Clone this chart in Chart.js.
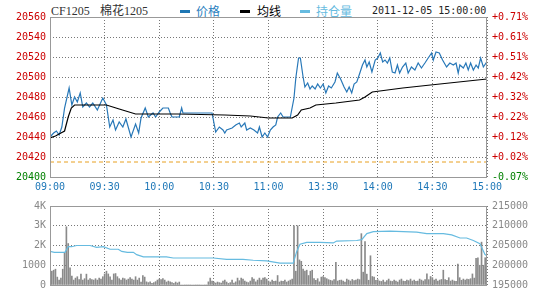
<!DOCTYPE html>
<html>
<head>
<meta charset="utf-8">
<script src="https://cdn.jsdelivr.net/npm/chart.js@4/dist/chart.umd.min.js"></script>
<style>
body { margin: 0; background: #fff; }
#wrap { position: relative; width: 540px; height: 300px; overflow: hidden; }
.t { position: absolute; top: 4px; line-height: 14px; font-size: 12px; white-space: nowrap; font-family: "Liberation Serif", "Noto Sans CJK SC", serif; color: #333; }
.cn { font-family: "Noto Sans CJK SC", sans-serif; }
.dash { position: absolute; top: 10px; width: 10px; height: 3px; }
#topBox { position: absolute; left: 0; top: 0; width: 540px; height: 195px; }
#botBox { position: absolute; left: 0; top: 195px; width: 540px; height: 105px; }
</style>
</head>
<body>
<div id="wrap">
  <span class="t" style="left:51px">CF1205</span>
  <span class="t" style="left:100px">棉花1205</span>
  <div class="dash" style="left:180px;background:#1f77b4"></div>
  <span class="t cn" style="left:196px;color:#2a80c0">价格</span>
  <div class="dash" style="left:240px;background:#000"></div>
  <span class="t cn" style="left:257px;color:#000">均线</span>
  <div class="dash" style="left:300px;background:#66bbe0"></div>
  <span class="t cn" style="left:316px;color:#66bbe0">持仓量</span>
  <span class="t" style="left:372px;font-family:'DejaVu Sans Mono',monospace;font-size:10px;color:#222">2011-12-05 15:00:00</span>
  <div id="topBox"><canvas id="priceChart"></canvas></div>
  <div id="botBox"><canvas id="volChart"></canvas></div>
</div>
<script>
/* -------------------------
   Data (minutes from 09:00, trading time only)
------------------------- */
const timeLabels = ["09:00", "09:30", "10:00", "10:30", "11:00", "13:30", "14:00", "14:30", "15:00"];
const prevSettle = 20415;

const priceMin = [0, 2, 3.5, 5, 6.5, 8, 10.5, 12, 13.5, 15, 16.6, 18, 20, 21.7, 23.5, 26, 29, 31, 32.8, 34.6,
  36, 38, 40, 41.7, 44.5, 47, 48.7, 50, 52.3, 54, 56.6, 58, 60, 62, 65, 66, 67, 71, 72.3, 73,
  89, 91, 93, 95, 96, 97, 100, 102, 104, 105, 107, 108, 110, 112, 114, 115, 116.5, 118, 119.5, 121,
  122.5, 124, 125, 126.7, 128, 132, 134, 135, 136.5, 137.5, 139, 140, 141.5, 142.8, 144, 145.6, 147, 148.5, 150, 151.5,
  153, 154.5, 156.5, 157.8, 159.6, 161.5, 163, 164.3, 165.7, 167, 168.5, 169.8, 171.6, 173, 174, 175.3, 176.8, 178.6, 180, 181.4,
  182.7, 184, 185.3, 186.6, 188, 189.5, 190.8, 192, 193.6, 195.4, 196.7, 198.5, 200.4, 202.2, 204, 205.9, 207.7, 209.6, 210.5, 212,
  213.8, 215.6, 217.8, 219.6, 221.5, 223, 224.2, 225.1, 227, 228.4, 229.7, 231, 232.5, 234, 235.2, 236.5, 238, 239.5, 240];
const priceVal = [20440, 20444, 20446, 20442, 20450, 20469, 20489, 20472, 20480, 20475, 20484, 20470, 20474, 20470, 20474, 20467, 20479, 20472, 20450, 20457,
  20447, 20455, 20450, 20458, 20440, 20453, 20444, 20459, 20469, 20460, 20464, 20460, 20465, 20469, 20469, 20464, 20460, 20460, 20469, 20464,
  20464, 20445, 20450, 20447, 20444, 20447, 20449, 20452, 20454, 20450, 20454, 20447, 20449, 20447, 20444, 20450, 20440, 20444, 20440, 20447,
  20450, 20452, 20460, 20464, 20460, 20460, 20479, 20499, 20519, 20519, 20500, 20490, 20494, 20488, 20491, 20488, 20493, 20489, 20493, 20484,
  20491, 20489, 20495, 20504, 20498, 20490, 20485, 20490, 20484, 20493, 20495, 20502, 20512, 20517, 20510, 20515, 20505, 20517, 20519, 20524,
  20515, 20517, 20514, 20519, 20505, 20504, 20512, 20504, 20510, 20514, 20504, 20510, 20507, 20514, 20509, 20514, 20519, 20524, 20517, 20525,
  20524, 20517, 20510, 20514, 20512, 20514, 20504, 20512, 20509, 20514, 20507, 20514, 20507, 20512, 20509, 20519, 20510, 20514, 20513];

const avgMin = [0, 3, 6, 8, 10, 11.7, 13.5, 31, 38, 47, 70, 96, 110, 120, 133, 136, 138, 142.8, 146, 157, 170, 173, 177, 193.7, 209, 240];
const avgVal = [20439, 20441, 20444, 20446, 20460, 20469, 20472, 20472, 20468, 20463, 20463, 20462, 20461, 20459, 20459, 20462, 20467, 20469, 20472, 20474, 20477, 20480, 20485, 20489, 20492, 20498];

const oiMin = [0, 2.4, 8.2, 10, 11.9, 14.6, 22, 25.6, 29.3, 33, 37.5, 39.4, 42.5, 45.8, 47.6, 51.3, 64, 67.7, 89.7, 97,
  106, 111.6, 119, 126.3, 133.6, 135.5, 137.3, 141, 148.3, 155.6, 157.4, 168.4, 171.2, 174, 177.6, 186.7, 201.4, 206.9, 216, 220.6,
  225.2, 228.8, 232.5, 236.1, 238.9, 240];
const oiVal = [203500, 203260, 203260, 204690, 204690, 205000, 205000, 204520, 204690, 204050, 204050, 203500, 203260, 203260, 202690, 202140, 202140, 201830, 201830, 201500,
  201500, 201260, 201120, 200550, 200550, 203500, 205310, 205790, 205790, 205640, 206120, 206270, 206500, 208020, 208500, 208650, 208400, 208020, 208020, 207690,
  206900, 206900, 206270, 205480, 202690, 202400];

// one bar per minute, 09:00 .. 15:00
const volumes = [
  500, 700, 750, 800, 400, 250, 350, 800, 1650, 2950,
  2100, 870, 450, 250, 350, 420, 270, 550, 250, 320,
  550, 250, 320, 280, 250, 320, 250, 350, 300, 420,
  560, 700, 560, 420, 250, 560, 580, 420, 320, 250,
  350, 320, 250, 300, 380, 300, 250, 420, 250, 350,
  150, 480, 400, 160, 120, 160, 80, 120, 170, 250,
  300, 270, 320, 250, 150, 200, 160, 120, 80, 150,
  100, 150, 0, 0, 0, 0, 0, 0, 0, 0,
  0, 0, 0, 0, 0, 0, 0, 160, 350, 200,
  150, 100, 150, 120, 100, 200, 250, 150, 80, 120,
  250, 100, 160, 350, 220, 350, 300, 200, 150, 120,
  200, 380, 300, 160, 250, 350, 250, 350, 380, 300,
  200, 150, 250, 180, 200, 480, 150, 200, 180, 250,
  150, 200, 250, 300, 3000, 700, 3000, 1270, 1200, 800,
  700, 750, 480, 700, 750, 320, 240, 320, 160, 400,
  430, 370, 320, 270, 240, 210, 270, 1150, 200, 240,
  250, 200, 150, 300, 250, 200, 280, 220, 250, 300,
  270, 2600, 650, 2200, 550, 240, 1480, 430, 400, 240,
  270, 200, 180, 250, 150, 220, 300, 200, 180, 250,
  200, 150, 250, 300, 200, 180, 250, 220, 300, 200,
  250, 180, 200, 300, 250, 200, 280, 560, 270, 430,
  370, 250, 300, 200, 250, 280, 750, 270, 240, 370,
  200, 250, 200, 180, 1060, 370, 240, 300, 250, 300,
  280, 320, 560, 350, 1350, 1380, 1000, 2170, 1000, 1380,
  950];
const volTickLabels = { 0: "0", 1000: "1000", 2000: "2K", 3000: "3K", 4000: "4K" };

/* -------------------------
   Helpers
------------------------- */
const pairs = (xs, ys) => xs.map((x, i) => ({ x: x, y: ys[i] }));
const mono = { family: "'DejaVu Sans Mono', monospace", size: 10 };
const gridColor = "#777777";

// grey frame round the plot area
const framePlugin = {
  id: "frame",
  afterDraw(chart) {
    const a = chart.chartArea;
    const ctx = chart.ctx;
    ctx.save();
    ctx.strokeStyle = "#999";
    ctx.lineWidth = 1;
    ctx.strokeRect(Math.round(a.left) + 0.5, Math.round(a.top) + 0.5, Math.round(a.right - a.left) - 1, Math.round(a.bottom - a.top));
    ctx.restore();
  }
};

function fixWidth(w) { return (s) => { s.width = w; }; }
function fixHeight(h) { return (s) => { s.height = h; }; }

/* -------------------------
   Price chart
------------------------- */
new Chart(document.getElementById("priceChart"), {
  type: "line",
  data: {
    datasets: [
      {
        label: "昨结",
        data: [{ x: 0, y: prevSettle }, { x: 240, y: prevSettle }],
        borderColor: "#e8a020",
        borderWidth: 1,
        borderDash: [4, 3],
        pointRadius: 0
      },
      {
        label: "均线",
        data: pairs(avgMin, avgVal),
        borderColor: "#000",
        borderWidth: 1.2,
        pointRadius: 0,
        tension: 0
      },
      {
        label: "价格",
        data: pairs(priceMin, priceVal),
        borderColor: "#2878b8",
        borderWidth: 1.2,
        pointRadius: 0,
        tension: 0
      }
    ]
  },
  options: {
    responsive: true,
    maintainAspectRatio: false,
    animation: false,
    layout: { padding: { top: 17, left: 0, right: 0, bottom: 0 } },
    plugins: { legend: { display: false }, tooltip: { enabled: false } },
    scales: {
      x: {
        type: "linear",
        min: 0,
        max: 240,
        afterFit: fixHeight(18),
        afterBuildTicks: (s) => { s.ticks = timeLabels.map((t, i) => ({ value: i * 30 })); },
        ticks: {
          padding: 4,
          maxRotation: 0,
          autoSkip: false,
          font: mono,
          color: "#1f78b8",
          callback: (v) => timeLabels[v / 30]
        },
        grid: { color: gridColor, lineWidth: 1, drawTicks: false },
        border: { display: false, dash: [1, 2] }
      },
      y: {
        position: "left",
        min: 20400,
        max: 20560,
        afterFit: fixWidth(50),
        ticks: {
          stepSize: 20,
          padding: 4,
          font: mono,
          color: (c) => (c.tick.value > prevSettle ? "#cc0000" : "#008000"),
          callback: (v) => String(v)
        },
        grid: { color: gridColor, lineWidth: 1, drawTicks: false },
        border: { display: false, dash: [1, 2] }
      },
      yPct: {
        position: "right",
        min: 20400,
        max: 20560,
        afterFit: fixWidth(53),
        ticks: {
          stepSize: 20,
          padding: 5,
          font: mono,
          color: (c) => (c.tick.value > prevSettle ? "#cc0000" : "#008000"),
          callback: (v) => {
            const p = ((v / prevSettle - 1) * 100).toFixed(2);
            return (v > prevSettle ? "+" : "") + p + "%";
          }
        },
        grid: { display: false, drawTicks: false },
        border: { display: false }
      }
    }
  },
  plugins: [framePlugin]
});

/* -------------------------
   Volume / open interest chart
------------------------- */
new Chart(document.getElementById("volChart"), {
  type: "bar",
  data: {
    datasets: [
      {
        type: "line",
        label: "持仓量",
        data: pairs(oiMin, oiVal),
        yAxisID: "yOi",
        borderColor: "#66bbe0",
        borderWidth: 1.2,
        pointRadius: 0,
        tension: 0
      },
      {
        label: "成交量",
        data: volumes.map((v, i) => ({ x: i, y: v })),
        yAxisID: "y",
        backgroundColor: "#8a8a8a",
        barThickness: 1
      }
    ]
  },
  options: {
    responsive: true,
    maintainAspectRatio: false,
    animation: false,
    layout: { padding: { top: 5, left: 0, right: 0, bottom: 0 } },
    plugins: { legend: { display: false }, tooltip: { enabled: false } },
    scales: {
      x: {
        type: "linear",
        min: 0,
        max: 240,
        offset: false,
        afterFit: fixHeight(15),
        ticks: { stepSize: 30, display: false },
        grid: { color: gridColor, lineWidth: 1, drawTicks: false, offset: false },
        border: { display: false, dash: [1, 2] }
      },
      y: {
        position: "left",
        min: 0,
        max: 4000,
        afterFit: fixWidth(50),
        ticks: {
          stepSize: 1000,
          padding: 4,
          font: mono,
          color: "#888",
          callback: (v) => volTickLabels[v]
        },
        grid: { color: gridColor, lineWidth: 1, drawTicks: false },
        border: { display: false, dash: [1, 2] }
      },
      yOi: {
        position: "right",
        min: 195000,
        max: 215000,
        afterFit: fixWidth(53),
        ticks: { stepSize: 5000, padding: 5, font: mono, color: "#888", callback: (v) => String(v) },
        grid: { display: false, drawTicks: false },
        border: { display: false }
      }
    }
  },
  plugins: [framePlugin]
});
</script>
</body>
</html>
